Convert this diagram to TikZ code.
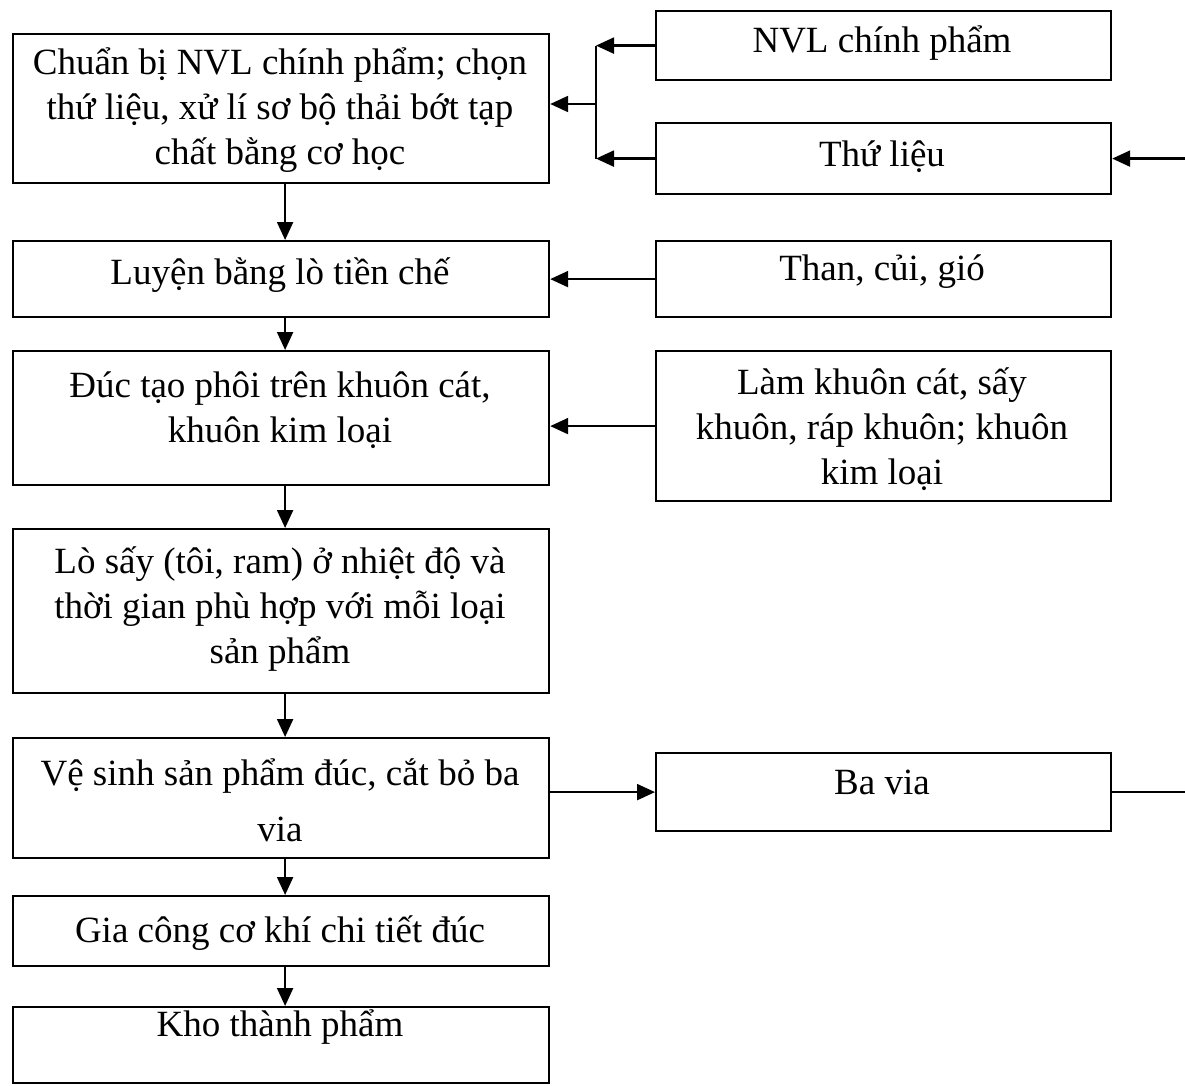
\documentclass[tikz,border=0pt]{standalone}
\usepackage{fontspec}
\setmainfont{Liberation Serif}
\usetikzlibrary{arrows.meta}
\begin{document}
\begin{tikzpicture}[x=1pt,y=-1pt,
  box/.style={draw, line width=2.2pt, inner sep=0pt, anchor=north west},
  lbox/.style={box, minimum width=536pt},
  rbox/.style={box, minimum width=455pt},
  txt/.style={inner sep=0pt, align=center, font=\fontsize{37}{45}\selectfont},
  conn/.style={line width=2.2pt},
  arr/.style={conn, -{Triangle[length=18pt,width=16pt]}}]
\useasboundingbox (0,0) rectangle (1185,1086);
% left column boxes
\node[lbox, minimum height=149pt] (b1) at (12,33) {};
\node[lbox, minimum height=76pt]  (b2) at (12,240) {};
\node[lbox, minimum height=134pt] (b3) at (12,350) {};
\node[lbox, minimum height=164pt] (b4) at (12,528) {};
\node[lbox, minimum height=120pt] (b5) at (12,737) {};
\node[lbox, minimum height=70pt]  (b6) at (12,895) {};
\node[lbox, minimum height=76pt]  (b7) at (12,1006) {};
% right column boxes
\node[rbox, minimum height=69pt]  (nvl) at (655,10) {};
\node[rbox, minimum height=71pt]  (tl)  at (655,122) {};
\node[rbox, minimum height=76pt]  (than) at (655,240) {};
\node[rbox, minimum height=150pt] (lk)  at (655,350) {};
\node[rbox, minimum height=78pt]  (bv)  at (655,752) {};
% texts
\node[txt] (b1t) at (280,110) {Chuẩn bị NVL chính phẩm; chọn\\thứ liệu, xử lí sơ bộ thải bớt tạp\\chất bằng cơ học};
\node[txt] (b2t) at (280,275) {Luyện bằng lò tiền chế};
\node[txt] (b3t) at (280,410) {Đúc tạo phôi trên khuôn cát,\\khuôn kim loại};
\node[txt] (b4t) at (280,609) {Lò sấy (tôi, ram) ở nhiệt độ và\\thời gian phù hợp với mỗi loại\\sản phẩm};
\node[txt] (b5t) at (280,800) {Vệ sinh sản phẩm đúc, cắt bỏ ba\\[11pt]via};
\node[txt] (b6t) at (280,933) {Gia công cơ khí chi tiết đúc};
\node[txt] (b7t) at (280,1027) {Kho thành phẩm};
\node[txt] (nvlt) at (882,43) {NVL chính phẩm};
\node[txt] (tlt) at (882,157) {Thứ liệu};
\node[txt] (thant) at (882,272) {Than, củi, gió};
\node[txt] (lkt) at (882,429) {Làm khuôn cát, sấy\\khuôn, ráp khuôn; khuôn\\kim loại};
\node[txt] (bvt) at (882,782) {Ba via};
% junction and free ends
\coordinate (j) at (596,104);
\coordinate (rx) at (1185,0);
\draw[conn] (nvl.west -| j) -- (tl.west -| j);
\draw[arr] (nvl.west) -- (nvl.west -| j);
\draw[arr] (tl.west) -- (tl.west -| j);
\draw[arr] (j) -- (b1.east |- j);
\draw[arr] (tl.east -| rx) -- (tl.east);
\draw[arr] (than.west) -- (b2.east |- than.west);
\draw[arr] (lk.west) -- (b3.east |- lk.west);
\draw[arr] (b5.east |- bv.west) -- (bv.west);
\draw[conn] (bv.east) -- (bv.east -| rx);
% vertical flow
\draw[arr] ([xshift=4pt]b1.south) -- ([xshift=4pt]b2.north);
\draw[arr] ([xshift=4pt]b2.south) -- ([xshift=4pt]b3.north);
\draw[arr] ([xshift=4pt]b3.south) -- ([xshift=4pt]b4.north);
\draw[arr] ([xshift=4pt]b4.south) -- ([xshift=4pt]b5.north);
\draw[arr] ([xshift=4pt]b5.south) -- ([xshift=4pt]b6.north);
\draw[arr] ([xshift=4pt]b6.south) -- ([xshift=4pt]b7.north);
\end{tikzpicture}
\end{document}
